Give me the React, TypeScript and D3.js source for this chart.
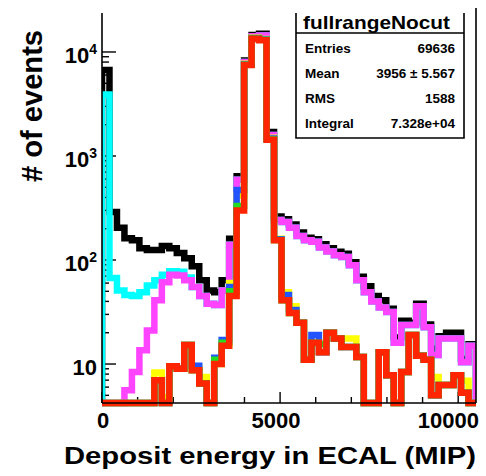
import React from "react";
import * as d3 from "d3";

// Histogram binning (MIP)
const xRange = [0, 10500];
const nBins = 50;

// Bin contents, 210 MIP wide bins starting at 0
const allEvents = [
  6700, 290, 204, 162, 155, 130, 125, 125, 136, 130,
  117, 104, 87, 64, 51, 49, 64, 160, 640, 8300,
  14600, 15000, 1700, 262, 246, 220, 184, 164, 158, 142,
  130, 120, 115, 95, 69, 56, 45, 41, 34, 18,
  26, 25, 38, 24, 14, 18.5, 20, 20, 11.2, 15.5,
];
const cyanSel = [
  3900, 67, 51, 46, 45, 49, 57, 64, 72, 78,
  77, 68, 55, 45, 38, 37, 51, 140, 590, 8000,
  14200, 14400, 1590, 243, 232, 204, 170, 155, 150, 132,
  121, 111, 107, 89, 64, 49, 40, 35, 31.6, 16,
  23.7, 23.7, 36, 22.6, 12.2, 17.6, 17.6, 17.6, 10.4, 15,
];
const magentaSel = [
  0, 0, 0, 5.6, 8.4, 13.6, 21, 41, 61, 72,
  71, 64, 55, 45, 38, 37, 51, 140, 590, 8000,
  14200, 14400, 1590, 243, 232, 204, 170, 155, 150, 132,
  121, 111, 107, 89, 64, 49, 40, 35, 31.6, 16,
  23.7, 23.7, 36, 22.6, 12.2, 17.6, 17.6, 17.6, 10.4, 15,
];
const yellowSel = [
  0, 0, 0, 0, 0, 0, 0, 8.3, 4.8, 9.5,
  9.0, 15.2, 9.2, 7.5, 0, 10, 15, 60, 420, 7700,
  13800, 13300, 1500, 160, 49, 36, 25, 11, 16, 13,
  20, 17.6, 17.6, 17.6, 11.7, 0, 0, 13, 7.8, 0,
  8.4, 19, 12, 11, 7.5, 6.3, 6.3, 7.8, 6.9, 0,
];
const blueSel = [
  0, 0, 0, 0, 0, 0, 0, 7.0, 0, 9.5,
  9.0, 15.2, 9.6, 6.5, 0, 11.5, 17, 55, 470, 7600,
  13600, 13200, 1470, 158, 46, 33, 25, 11, 19, 13,
  20, 17.6, 14.6, 14.6, 11.7, 0, 0, 13, 7.8, 0,
  8.4, 19, 12, 11, 5.0, 6.3, 6.3, 7.8, 5.3, 0,
];
const greenSel = [
  0, 0, 0, 0, 0, 0, 0, 7.0, 0, 9.5,
  9.0, 15.2, 8.7, 6.5, 0, 11, 16, 50, 330, 7550,
  13500, 13100, 1450, 156, 41, 31, 25, 11, 16, 15.5,
  20, 17.6, 14.6, 14.6, 11.7, 0, 0, 13, 7.8, 0,
  8.4, 19, 12, 11, 5.0, 6.3, 6.3, 7.8, 5.3, 0,
];
const redSel = [
  0, 0, 0, 0, 0, 0, 0, 7.0, 0, 9.5,
  9.0, 15.2, 8.7, 6.5, 0, 10, 15, 45, 300, 7500,
  13400, 13000, 1430, 155, 41, 31, 25, 11, 16, 13,
  20, 17.6, 14.6, 14.6, 11.7, 0, 0, 13, 7.8, 0,
  8.4, 19, 12, 11, 5.0, 6.3, 6.3, 7.8, 5.3, 0,
];

// Drawing order: first entry at the bottom
const seriesList = [allEvents, cyanSel, magentaSel, yellowSel, blueSel, greenSel, redSel];
const seriesColors = ["#000000", "#00ffff", "#ff44ff", "#ffff00", "#2255ff", "#22dd22", "#ff2500"];

const xMajorTicks = [0, 5000, 10000];
const xMinorTicks = [1000, 2000, 3000, 4000, 6000, 7000, 8000, 9000];
const yMajorTicks = [10, 100, 1000, 10000];
const yTickExponents = ["", "2", "3", "4"];
const yRange = [4.22, 23700];

const statsTitle = "fullrangeNocut";
const statsLabels = ["Entries", "Mean", "RMS", "Integral"];
const statsValues = ["69636", "3956 \u00b1  5.567", "1588", "7.328e+04"];

const xTitle = "Deposit energy in ECAL (MIP)";
const yTitle = "# of events";

const FONT = "'Liberation Sans', Arial, Helvetica, sans-serif";

export default function App() {
  const W = 486;
  const H = 476;
  const frame = { left: 102, right: 476, top: 13, bottom: 403 };

  const x = d3.scaleLinear().domain(xRange).range([frame.left, frame.right]);
  const y = d3.scaleLog().domain(yRange).range([frame.bottom, frame.top]);
  const binW = (xRange[1] - xRange[0]) / nBins;
  const yMin = yRange[0];

  const line = d3
    .line<[number, number]>()
    .x((d) => x(d[0]))
    .y((d) => y(Math.max(d[1], yMin)))
    .curve(d3.curveStepAfter);

  const histPath = (vals: number[]) => {
    const pts: [number, number][] = [[xRange[0], yMin]];
    vals.forEach((v, i) => pts.push([xRange[0] + i * binW, v]));
    pts.push([xRange[0] + nBins * binW, vals[vals.length - 1]]);
    pts.push([xRange[0] + nBins * binW, yMin]);
    return line(pts) || "";
  };

  // log minor ticks 2..9 x 10^n inside the range, up to the top major
  const yMinorTicks: number[] = [];
  for (let d = 1; d <= 1000; d *= 10) {
    for (let k = 2; k <= 9; k++) {
      const v = k * d;
      if (v >= yMin && v <= 10000) yMinorTicks.push(v);
    }
  }

  const box = { left: 296, right: 464, top: 13, divider: 33, bottom: 138 };
  const rowBaselines = [53, 78, 103, 128];

  return (
    <svg
      width={W}
      height={H}
      viewBox={`0 0 ${W} ${H}`}
      style={{ position: "absolute", left: 0, top: 0, background: "#fff" }}
      fontFamily={FONT}
    >
      <defs>
        <clipPath id="frameClip">
          <rect x={frame.left} y={0} width={frame.right - frame.left} height={frame.bottom + 8} />
        </clipPath>
      </defs>
      <rect x={0} y={0} width={W} height={H} fill="#fff" />

      {/* ticks */}
      <g stroke="#000" strokeWidth={1.4}>
        {yMajorTicks.map((v) => (
          <line key={"ym" + v} x1={frame.left} x2={frame.left + 14} y1={y(v)} y2={y(v)} />
        ))}
        {yMinorTicks.map((v) => (
          <line key={"yn" + v} x1={frame.left} x2={frame.left + 7} y1={y(v)} y2={y(v)} />
        ))}
        {xMajorTicks.map((v) => (
          <line key={"xm" + v} x1={x(v)} x2={x(v)} y1={frame.bottom} y2={frame.bottom - 11} />
        ))}
        {xMinorTicks.map((v) => (
          <line key={"xn" + v} x1={x(v)} x2={x(v)} y1={frame.bottom} y2={frame.bottom - 6} />
        ))}
      </g>

      {/* histograms */}
      <g clipPath="url(#frameClip)" fill="none" strokeWidth={6.5} strokeLinejoin="miter">
        {seriesList.map((vals, i) => (
          <path key={i} d={histPath(vals)} stroke={seriesColors[i]} />
        ))}
      </g>

      {/* axis lines */}
      <g stroke="#000" strokeWidth={1.6}>
        <line x1={frame.left} x2={frame.left} y1={frame.top} y2={frame.bottom} />
        <line x1={frame.left} x2={frame.right} y1={frame.bottom} y2={frame.bottom} />
        <line x1={frame.right} x2={frame.right} y1={8} y2={frame.bottom} />
      </g>

      {/* y tick labels */}
      <g fontWeight="bold" fontSize={22} textAnchor="end" fill="#000">
        {yMajorTicks.map((v, i) => (
          <text key={"yl" + v} x={frame.left - 5} y={y(v) + 11}>
            10
            {yTickExponents[i] && (
              <tspan fontSize={14} dy={-9}>
                {yTickExponents[i]}
              </tspan>
            )}
          </text>
        ))}
      </g>

      {/* x tick labels */}
      <g fontWeight="bold" fontSize={22} fill="#000">
        {xMajorTicks.map((v, i) => (
          <text
            key={"xl" + v}
            x={i === xMajorTicks.length - 1 ? W - 7 : x(v) - (i === 0 ? -1 : 4)}
            y={428}
            textAnchor={i === xMajorTicks.length - 1 ? "end" : "middle"}
          >
            {v}
          </text>
        ))}
      </g>

      {/* axis titles */}
      <text
        x={frame.right}
        y={464}
        textAnchor="end"
        fontWeight="bold"
        fontSize={23}
        textLength={412}
        lengthAdjust="spacingAndGlyphs"
      >
        {xTitle}
      </text>
      <text
        transform={`translate(42, 30) rotate(-90)`}
        textAnchor="end"
        fontWeight="bold"
        fontSize={29}
        textLength={152}
        lengthAdjust="spacingAndGlyphs"
      >
        {yTitle}
      </text>

      {/* statistics box */}
      <rect x={box.left} y={box.top} width={box.right - box.left} height={box.bottom - box.top} fill="#fff" />
      <path
        d={`M${box.left},${box.top} V${box.bottom} H${box.right} V${box.top} M${box.left},${box.divider} H${box.right}`}
        fill="none"
        stroke="#000"
        strokeWidth={1.6}
      />
      <text
        x={303}
        y={29}
        fontWeight="bold"
        fontSize={19}
        textLength={147}
        lengthAdjust="spacingAndGlyphs"
      >
        {statsTitle}
      </text>
      <g fontWeight="bold" fontSize={13.5} fill="#000">
        {statsLabels.map((s, i) => (
          <text key={s} x={305} y={rowBaselines[i]}>
            {s}
          </text>
        ))}
        {statsValues.map((s, i) => (
          <text key={"v" + i} x={455} y={rowBaselines[i]} textAnchor="end">
            {s}
          </text>
        ))}
      </g>
    </svg>
  );
}
